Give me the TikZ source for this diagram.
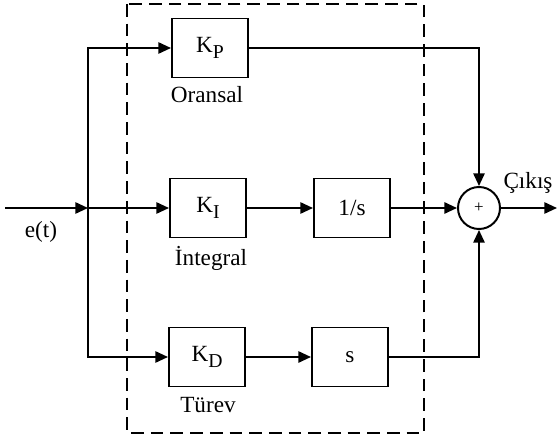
\documentclass[tikz,border=0pt]{standalone}
\usepackage{fontspec}
\setmainfont{Liberation Serif}
\usetikzlibrary{arrows.meta}

\newcommand{\gainsub}[1]{\raisebox{-0.5ex}{\fontsize{14}{14}\selectfont #1}}

\begin{document}
\begin{tikzpicture}[
  x=0.025cm, y=-0.025cm,
  >={Triangle[length=9pt,width=8pt]},
  font=\fontsize{16.5}{19}\selectfont,
  blk/.style={draw, line width=1.4pt, fill=white,
              minimum width=1.9cm, minimum height=1.475cm, inner sep=0pt},
  sumnode/.style={draw, circle, line width=1.4pt, fill=white,
                  minimum size=1.05cm, inner sep=0pt,
                  font=\fontsize{12}{12}\selectfont},
  sig/.style={->, line width=1.4pt},
  frame/.style={line width=1.4pt, dash pattern=on 9pt off 5pt},
  lbl/.style={inner sep=1pt}
]
\useasboundingbox (0,0) rectangle (560,440);

%% PID frame
\draw[frame] (127,4) rectangle (424,433);

%% Gain blocks
\node[blk] (kp) at (210,48)  {K\gainsub{P}};
\node[blk] (ki) at (208,208) {K\gainsub{I}};
\node[blk] (kd) at (207,357) {K\gainsub{D}};

%% Integrator / derivative
\node[blk] (integ) at (352,208) {1/s};
\node[blk] (deriv) at (350,357) {s};

%% Summing junction
\node[sumnode] (sum) at (479,208) {+};

%% Labels
\node[lbl] (oransal)  at (207,95)  {Oransal};
\node[lbl] (integral) at (211,258) {İntegral};
\node[lbl] (turev)    at (208,405) {Türev};
\node[lbl] (err)      at (41,232)  {e(t)};
\node[lbl] (cikis)    at (528,183) {Çıkış};

\coordinate (in)    at (5,208);
\coordinate (split) at (88,208);
\coordinate (out)   at (557,208);

%% Input and branches
\draw[sig] (in) -- (split);
\draw[sig] (split) |- (kp.west);
\draw[sig] (split) -- (ki.west);
\draw[sig] (split) |- (kd.west);

%% Paths to the sum
\draw[sig] (kp.east) -| (sum.north);
\draw[sig] (ki.east) -- (integ.west);
\draw[sig] (integ.east) -- (sum.west);
\draw[sig] (kd.east) -- (deriv.west);
\draw[sig] (deriv.east) -| (sum.south);

%% Output
\draw[sig] (sum.east) -- (out);

\end{tikzpicture}
\end{document}
